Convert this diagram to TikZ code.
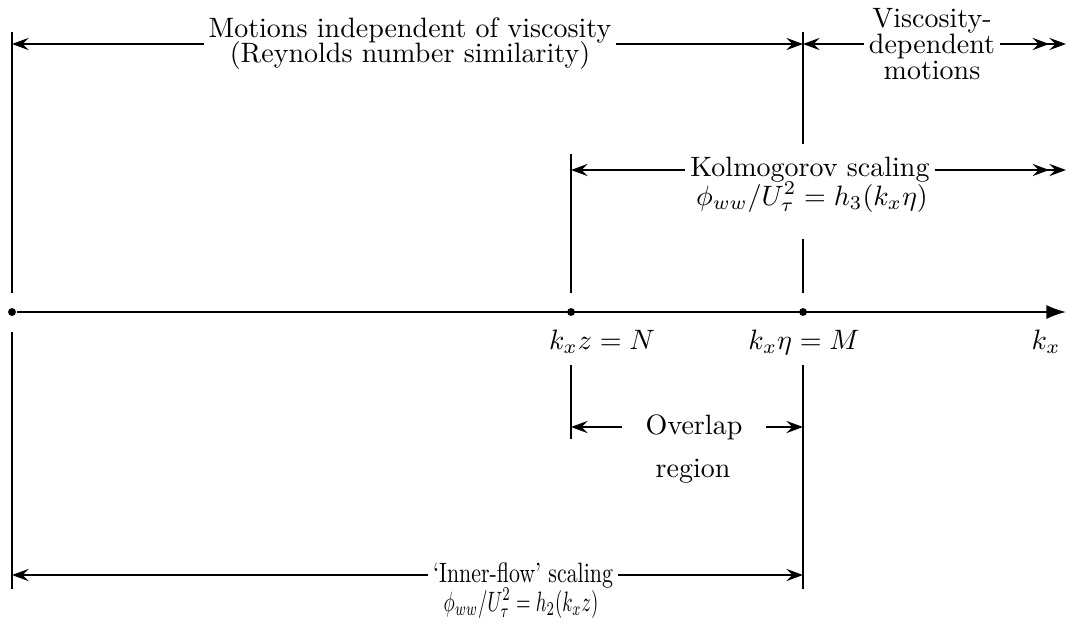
\documentclass[tikz,border=0pt]{standalone}
\usetikzlibrary{arrows.meta}
\begin{document}
\begin{tikzpicture}[x=0.357pt, y=-0.357pt, line width=0.6pt,
        >={Stealth[length=6pt,width=4.4pt,inset=2.2pt]},
        dot/.style={circle, fill, inner sep=0pt, minimum size=2.8pt},
        lbl/.style={inner sep=1.5pt, align=center}]
        \useasboundingbox (0,0) rectangle (1073,634);

        % k_x axis with its marks
        \node[dot] (zero) at (12,312) {};
        \node[dot] (markN) at (571,312) {};
        \node[dot] (markM) at (803,312) {};
        \coordinate (kend) at (1066,312);
        \draw[-{Latex[length=7pt,width=5pt]}] (zero) -- (kend);
        \node[anchor=base] (labN) at (602,349) {$k_xz = N$};
        \node[anchor=base] (labM) at (804,349) {$k_x\eta = M$};
        \node[anchor=base] (labk) at (1046,349) {$k_x$};

        % vertical limits
        \foreach \x/\ya/\yb in {12/32/293, 12/332/589, 571/154/293, 571/365/439,
                803/32/144, 803/239/293, 803/365/589} {
            \draw (\x,\ya) -- (\x,\yb);
        }

        % top row
        \coordinate (topL) at (12,44);
        \coordinate (topM) at (803,44);
        \coordinate (topR) at (1066,44);
        \node[lbl] (indep) at (410,44) {Motions independent of viscosity\\[-3.1pt](Reynolds number similarity)};
        \node[lbl] (visc) at (932,44) {Viscosity-\\[-2.6pt]dependent\\[-3pt]motions};
        \draw[->] (indep.west) -- (topL);
        \draw[->] (indep.east) -- (topM);
        \draw[->] (visc.west) -- (topM);
        \draw[->>] (visc.east) -- (topR);

        % Kolmogorov range
        \coordinate (kolL) at (571,170);
        \coordinate (kolR) at (1066,170);
        \node[lbl] (kolm) at (810,170) {Kolmogorov scaling};
        \node[anchor=base] (kolf) at (812,205) {$\phi_{ww}/U_\tau^2 = h_3(k_x\eta)$};
        \draw[->] (kolm.west) -- (kolL);
        \draw[->>] (kolm.east) -- (kolR);

        % overlap
        \coordinate (ovL) at (571,427);
        \coordinate (ovR) at (803,427);
        \node[lbl, inner xsep=8pt] (ovl) at (694,427) {Overlap};
        \node[anchor=base] (reg) at (693,477) {region};
        \draw[->] (ovl.west) -- (ovL);
        \draw[->] (ovl.east) -- (ovR);

        % inner-flow range
        \coordinate (inL) at (12,575);
        \coordinate (inR) at (803,575);
        \node[lbl] (inner) at (523,575) {\scalebox{0.78}[1]{`Inner-flow' scaling}};
        \node[anchor=base] (innf) at (521,611) {\scalebox{0.67}[1]{$\phi_{ww}/U_\tau^2 = h_2(k_xz)$}};
        \draw[->] (inner.west) -- (inL);
        \draw[->] (inner.east) -- (inR);
\end{tikzpicture}
\end{document}
